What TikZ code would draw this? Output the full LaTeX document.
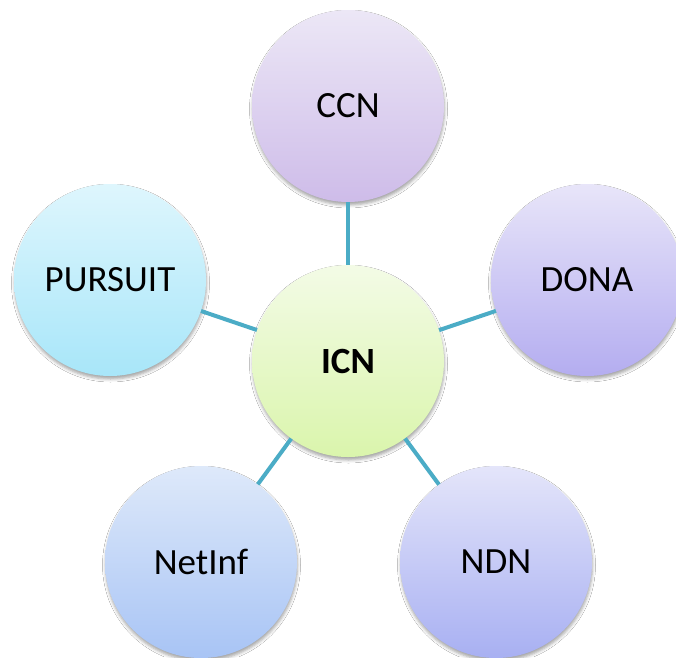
\documentclass[tikz,border=0pt]{standalone}
\usepackage{fontspec}
\setmainfont{Carlito}
\usetikzlibrary{shadows.blur}
\definecolor{linkteal}{HTML}{4BACC6}
\tikzset{
  bubble/.style={circle, minimum size=192pt, inner sep=0pt,
    font=\fontsize{37}{40}\selectfont, text=black,
    blur shadow={shadow xshift=0.5pt, shadow yshift=-3pt, shadow blur radius=3pt, shadow opacity=35}},
  link/.style={draw=linkteal, line width=4pt},
}
\begin{document}
\begin{tikzpicture}[x=1pt,y=-1pt]
\useasboundingbox[fill=white] (0,0) rectangle (676,657);

% central hub
\node[bubble, top color={rgb,255:red,243;green,251;blue,230}, bottom color={rgb,255:red,218;green,245;blue,172},
      font=\fontsize{37}{40}\selectfont\bfseries] (icn) at (348,361) {ICN};

% surrounding projects
\node[bubble, top color={rgb,255:red,236;green,231;blue,246}, bottom color={rgb,255:red,206;green,188;blue,233}] (ccn) at (348,106) {CCN};
\node[bubble, top color={rgb,255:red,232;green,229;blue,249}, bottom color={rgb,255:red,180;green,173;blue,240}] (dona) at (587,280) {DONA};
\node[bubble, top color={rgb,255:red,228;green,229;blue,250}, bottom color={rgb,255:red,168;green,176;blue,242}] (ndn) at (496,562) {NDN};
\node[bubble, top color={rgb,255:red,222;green,233;blue,250}, bottom color={rgb,255:red,168;green,196;blue,245}] (netinf) at (201,562) {NetInf};
\node[bubble, top color={rgb,255:red,222;green,246;blue,253}, bottom color={rgb,255:red,168;green,230;blue,249}] (pursuit) at (110,280) {PURSUIT};

% spokes
\draw[link] (icn) -- (ccn);
\draw[link] (icn) -- (dona);
\draw[link] (icn) -- (ndn);
\draw[link] (icn) -- (netinf);
\draw[link] (icn) -- (pursuit);
\end{tikzpicture}
\end{document}
